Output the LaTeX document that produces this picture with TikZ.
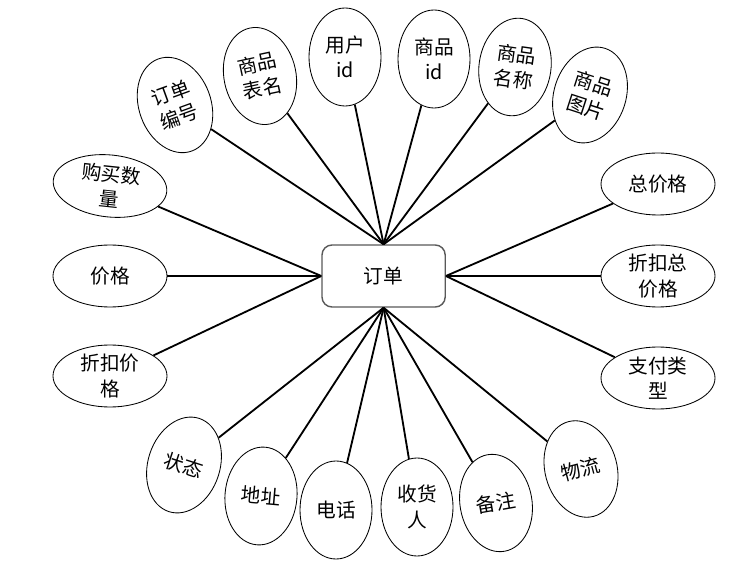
\documentclass[tikz,border=0pt]{standalone}
\usepackage{fontspec}
\newfontfamily\cjk{Noto Sans CJK SC}
\usetikzlibrary{shapes.geometric}
\begin{document}
\begin{tikzpicture}[
    attr/.style={draw,ellipse,line width=0.6pt,inner sep=0pt,align=center,
        minimum width=1.8cm,minimum height=2.45cm,font=\cjk\fontsize{14}{18}\selectfont},
    wideattr/.style={attr,minimum width=2.85cm,minimum height=1.55cm},
    entity/.style={draw=black!65,rounded corners=0.25cm,line width=1pt,fill=white,
        minimum width=3.08cm,minimum height=1.55cm,font=\cjk\fontsize{14}{18}\selectfont},
    link/.style={line width=1.3pt}]
        \useasboundingbox (0,0) rectangle (18.4,14.55);

        \node[entity] (dd) at (9.59,7.65) {订单};

        \node[attr,rotate=20] (ddbh) at (4.375,11.925) {订单\\编号};
        \node[attr,rotate=12] (spbm) at (6.5,12.65) {商品\\表名};
        \node[attr] (yhid) at (8.625,13.125) {用户\\id};
        \node[attr] (spid) at (10.85,13.075) {商品\\id};
        \node[attr,rotate=-8] (spmc) at (12.875,12.875) {商品\\名称};
        \node[attr,rotate=-18] (sptp) at (14.75,12.175) {商品\\图片};

        \node[wideattr,rotate=-6] (gmsl) at (2.75,9.9) {购买数\\量};
        \node[wideattr] (jg) at (2.75,7.65) {价格};
        \node[wideattr] (zkjg) at (2.75,5.15) {折扣价\\格};

        \node[wideattr] (zjg) at (16.45,9.95) {总价格};
        \node[wideattr] (zkzjg) at (16.45,7.65) {折扣总\\价格};
        \node[wideattr] (zflx) at (16.45,5.1) {支付类\\型};

        \node[attr,rotate=-18] (zt) at (4.6,2.925) {状态};
        \node[attr,rotate=-5] (dz) at (6.525,2.15) {地址};
        \node[attr] (dh) at (8.4,1.8) {电话};
        \node[attr] (shr) at (10.425,1.875) {收货\\人};
        \node[attr,rotate=10] (bz) at (12.4,1.975) {备注};
        \node[attr,rotate=15] (wl) at (14.525,2.825) {物流};

        \draw[link] (ddbh) -- (dd.north);
        \draw[link] (spbm) -- (dd.north);
        \draw[link] (yhid) -- (dd.north);
        \draw[link] (spid) -- (dd.north);
        \draw[link] (spmc) -- (dd.north);
        \draw[link] (sptp) -- (dd.north);

        \draw[link] (gmsl) -- (dd.west);
        \draw[link] (jg) -- (dd.west);
        \draw[link] (zkjg) -- (dd.west);

        \draw[link] (zjg) -- (dd.east);
        \draw[link] (zkzjg) -- (dd.east);
        \draw[link] (zflx) -- (dd.east);

        \draw[link] (zt) -- (dd.south);
        \draw[link] (dz) -- (dd.south);
        \draw[link] (dh) -- (dd.south);
        \draw[link] (shr) -- (dd.south);
        \draw[link] (bz) -- (dd.south);
        \draw[link] (wl) -- (dd.south);
\end{tikzpicture}
\end{document}
